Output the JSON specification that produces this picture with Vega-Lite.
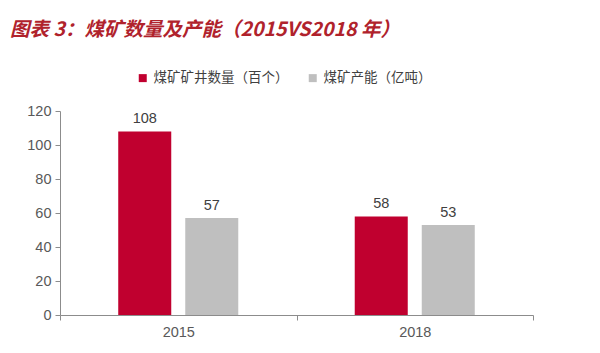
{
  "$schema": "https://vega.github.io/schema/vega-lite/v6.json",
  "width": 473,
  "height": 204,
  "autosize": {"type": "none"},
  "padding": {"left": 60, "top": 111, "right": 67, "bottom": 38},
  "background": "white",
  "title": {
    "text": "图表 3：煤矿数量及产能（2015VS2018 年）",
    "anchor": "start",
    "frame": "group",
    "dx": -50,
    "offset": 31,
    "font": "Noto Sans CJK SC",
    "fontSize": 19.5,
    "fontWeight": "bold",
    "fontStyle": "italic",
    "color": "#B0222C"
  },
  "data": {
    "values": [
      {"year": "2015", "series": "煤矿矿井数量（百个）", "value": 108},
      {"year": "2015", "series": "煤矿产能（亿吨）", "value": 57},
      {"year": "2018", "series": "煤矿矿井数量（百个）", "value": 58},
      {"year": "2018", "series": "煤矿产能（亿吨）", "value": 53}
    ]
  },
  "encoding": {
    "x": {
      "field": "year",
      "type": "nominal",
      "scale": {"paddingInner": 0, "paddingOuter": 0},
      "axis": {
        "title": null,
        "labelAngle": 0,
        "labelFont": "Liberation Sans",
        "labelFontSize": 14.5,
        "labelColor": "#595959",
        "labelPadding": 5,
        "domainColor": "#8c8c8c",
        "tickColor": "#8c8c8c",
        "tickBand": "extent",
        "tickSize": 5
      }
    },
    "xOffset": {
      "field": "series",
      "type": "nominal",
      "sort": ["煤矿矿井数量（百个）", "煤矿产能（亿吨）"],
      "scale": {"paddingInner": 0.209, "paddingOuter": 0.869}
    },
    "y": {
      "field": "value",
      "type": "quantitative",
      "scale": {"domain": [0, 120]},
      "axis": {
        "title": null,
        "values": [0, 20, 40, 60, 80, 100, 120],
        "grid": false,
        "labelFont": "Liberation Sans",
        "labelFontSize": 14.5,
        "labelColor": "#595959",
        "labelPadding": 4,
        "domainColor": "#8c8c8c",
        "tickColor": "#8c8c8c",
        "tickSize": 5
      }
    },
    "color": {
      "field": "series",
      "type": "nominal",
      "sort": ["煤矿矿井数量（百个）", "煤矿产能（亿吨）"],
      "scale": {"domain": ["煤矿矿井数量（百个）", "煤矿产能（亿吨）"], "range": ["#C0002F", "#BFBFBF"]},
      "legend": {
        "title": null,
        "orient": "none",
        "direction": "horizontal",
        "legendX": 76,
        "legendY": -40,
        "symbolType": "square",
        "symbolSize": 64,
        "symbolStrokeWidth": 0,
        "labelFont": "Noto Sans CJK SC",
        "labelFontSize": 13.5,
        "labelColor": "#404040",
        "labelOffset": 4,
        "columnPadding": 17
      }
    }
  },
  "layer": [
    {"mark": {"type": "bar"}},
    {
      "mark": {"type": "text", "dy": -12, "font": "Liberation Sans", "fontSize": 14.5, "color": "#404040"},
      "encoding": {"text": {"field": "value", "type": "quantitative"}, "color": {"value": "#404040"}}
    }
  ],
  "config": {"view": {"stroke": null}}
}
